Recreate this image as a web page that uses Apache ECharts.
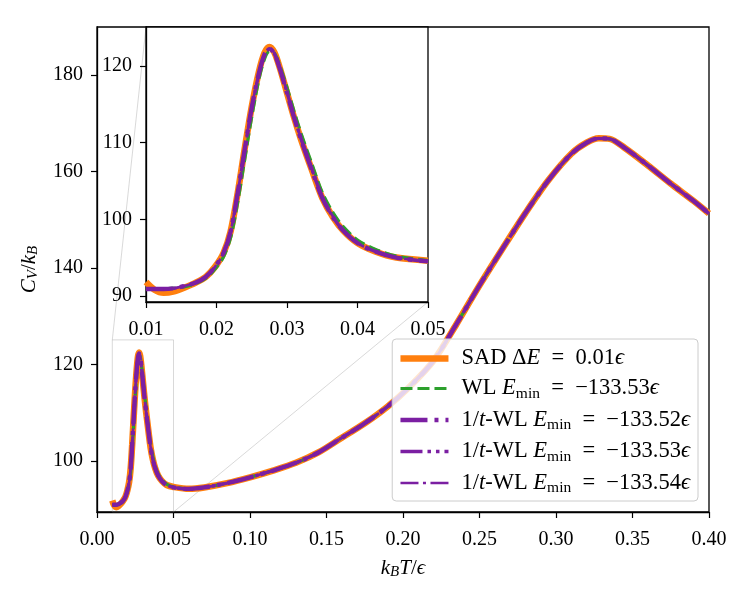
<!DOCTYPE html>
<html>
<head>
<meta charset="utf-8">
<script src="https://cdn.jsdelivr.net/npm/echarts@6/dist/echarts.min.js"></script>
<style>
  html, body { margin: 0; padding: 0; background: #fff; }
  #main { width: 750px; height: 600px; }
</style>
</head>
<body>
<div id="main"></div>
<script>
// temperatures k_B T / eps
const temps = [0.0100, 0.0112, 0.0125, 0.0140, 0.0155, 0.0170, 0.0185, 0.0198, 0.0210, 0.0220,
  0.0230, 0.0240, 0.0250, 0.0260, 0.0268, 0.0275, 0.0282, 0.0290, 0.0300, 0.0310,
  0.0320, 0.0335, 0.0350, 0.0365, 0.0380, 0.0400, 0.0425, 0.0455, 0.0500, 0.0600,
  0.0700, 0.0850, 0.1000, 0.1150, 0.1300, 0.1450, 0.1600, 0.1750, 0.1900, 0.2050,
  0.2200, 0.2350, 0.2500, 0.2650, 0.2800, 0.2950, 0.3100, 0.3200, 0.3280, 0.3350,
  0.3450, 0.3600, 0.3750, 0.3900, 0.4000];

const sadCv = [91.8, 90.8, 90.4, 90.6, 91.1, 91.7, 92.5, 93.8, 95.6, 98.4,
  103.4, 109.2, 114.7, 119.2, 121.7, 122.5, 121.8, 119.7, 116.5, 113.3,
  110.4, 106.5, 102.8, 100.3, 98.5, 96.9, 95.8, 95.0, 94.6, 94.2,
  94.5, 95.4, 96.6, 98.0, 99.6, 101.8, 104.8, 107.8, 111.3, 115.6,
  120.8, 128.4, 136.4, 144.0, 151.4, 158.2, 163.7, 166.0, 166.9, 166.8,
  164.9, 161.3, 157.5, 153.9, 151.3];

const wlCv = [90.9, 90.9, 90.9, 91.0, 91.2, 91.6, 92.3, 93.5, 95.1, 97.6,
  102.2, 107.8, 113.4, 118.2, 120.9, 121.9, 121.7, 120.0, 117.2, 114.1,
  111.2, 107.3, 103.5, 100.9, 99.0, 97.3, 96.1, 95.2, 94.6, 94.2,
  94.5, 95.4, 96.6, 98.0, 99.6, 101.8, 104.8, 107.8, 111.3, 115.6,
  120.8, 128.4, 136.4, 144.0, 151.4, 158.2, 163.7, 166.0, 166.9, 166.8,
  164.9, 161.3, 157.5, 153.9, 151.3];

const tw52Cv = [90.9, 90.9, 90.9, 91.0, 91.3, 91.7, 92.5, 93.8, 95.6, 98.4,
  103.4, 109.1, 114.6, 119.0, 121.5, 122.3, 121.6, 119.6, 116.5, 113.3,
  110.4, 106.5, 102.8, 100.3, 98.5, 96.9, 95.8, 95.0, 94.5, 94.2,
  94.5, 95.4, 96.6, 98.0, 99.6, 101.8, 104.8, 107.8, 111.3, 115.6,
  120.8, 128.4, 136.4, 144.0, 151.4, 158.2, 163.7, 166.0, 166.9, 166.8,
  164.9, 161.3, 157.5, 153.9, 151.3];

const tw53Cv = [90.9, 90.9, 90.9, 91.0, 91.3, 91.7, 92.5, 93.8, 95.6, 98.3,
  103.3, 109.0, 114.5, 118.9, 121.4, 122.2, 121.6, 119.6, 116.6, 113.4,
  110.5, 106.6, 102.9, 100.3, 98.5, 96.9, 95.8, 95.0, 94.5, 94.2,
  94.5, 95.4, 96.6, 98.0, 99.6, 101.8, 104.8, 107.8, 111.3, 115.6,
  120.8, 128.4, 136.4, 144.0, 151.4, 158.2, 163.7, 166.0, 166.9, 166.8,
  164.9, 161.3, 157.5, 153.9, 151.3];

const tw54Cv = [90.9, 90.9, 90.9, 91.0, 91.3, 91.7, 92.5, 93.8, 95.6, 98.4,
  103.4, 109.1, 114.6, 119.0, 121.5, 122.3, 121.7, 119.7, 116.6, 113.4,
  110.5, 106.6, 102.9, 100.4, 98.5, 96.9, 95.8, 95.0, 94.5, 94.2,
  94.5, 95.4, 96.6, 98.0, 99.6, 101.8, 104.8, 107.8, 111.3, 115.6,
  120.8, 128.4, 136.4, 144.0, 151.4, 158.2, 163.7, 166.0, 166.9, 166.8,
  164.9, 161.3, 157.5, 153.9, 151.3];

const seriesNames = ['SAD 0.01', 'WL -133.53', '1/t-WL -133.52', '1/t-WL -133.53', '1/t-WL -133.54'];
const legendLabels = [
  '{r|SAD Δ}{i|E}{r|  =  0.01}{i|ϵ}',
  '{r|WL }{i|E}{s|min}{r|  =  −133.53}{i|ϵ}',
  '{r|1/}{i|t}{r|-WL }{i|E}{s|min}{r|  =  −133.52}{i|ϵ}',
  '{r|1/}{i|t}{r|-WL }{i|E}{s|min}{r|  =  −133.53}{i|ϵ}',
  '{r|1/}{i|t}{r|-WL }{i|E}{s|min}{r|  =  −133.54}{i|ϵ}'
];

const mainYTicks = [100, 120, 140, 160, 180];
const insetXTicks = [0.01, 0.02, 0.03, 0.04, 0.05];
const insetYTicks = [90, 100, 110, 120];

const mainYMin = 89.4, mainYMax = 190;
const insetXMin = 0.01, insetXMax = 0.05;
const insetYMin = 89.2, insetYMax = 125.1;

const font = 'Liberation Serif';
const orange = '#ff7f0e';
const green = '#2ca02c';
const purple = '#7b1fa2';

const pairs = (xs, ys) => xs.map((x, i) => [x, ys[i]]);

const styles = [
  { color: orange, width: 6.5, type: 'solid' },
  { color: green, width: 3.2, type: [12, 5] },
  { color: purple, width: 4.4, type: [27, 7, 4, 7] },
  { color: purple, width: 3.4, type: [22, 5, 3.5, 5, 3.5, 5] },
  { color: purple, width: 2.7, type: [18, 4.5, 3, 4.5] }
];
const values = [sadCv, wlCv, tw52Cv, tw53Cv, tw54Cv];

const chart = echarts.init(document.getElementById('main'));

const series = [];
[0, 1].forEach(g => {
  values.forEach((ys, k) => {
    let data = pairs(temps, ys);
    if (g === 1) data = data.filter(p => p[0] <= insetXMax);
    series.push({
      name: seriesNames[k],
      type: 'line',
      xAxisIndex: g,
      yAxisIndex: g,
      data: data,
      showSymbol: false,
      symbol: 'none',
      smooth: 0.3,
      clip: true,
      z: g === 0 ? 2 + k * 0.1 : 6 + k * 0.1,
      lineStyle: { color: styles[k].color, width: styles[k].width, type: styles[k].type, cap: 'butt' },
      itemStyle: { color: styles[k].color },
      emphasis: { disabled: true },
      animation: false
    });
  });
});

const tickLabel = { fontFamily: font, fontSize: 20, color: '#000' };
const nameRich = {
  i: { fontFamily: font, fontStyle: 'italic', fontSize: 21, color: '#000' },
  r: { fontFamily: font, fontSize: 21, color: '#000' },
  s: { fontFamily: font, fontStyle: 'italic', fontSize: 15, color: '#000', padding: [9, 0, 0, 0] }
};

const option = {
  animation: false,
  backgroundColor: '#fff',
  grid: [
    { left: 97, right: 41, top: 27, bottom: 88, show: true, borderColor: '#000', borderWidth: 1.3, backgroundColor: 'transparent' },
    { left: 146, right: 322, top: 27, bottom: 298, show: true, borderColor: '#000', borderWidth: 1.3, backgroundColor: '#fff', z: 5 }
  ],
  xAxis: [
    {
      type: 'value', gridIndex: 0, min: 0, max: 0.4, interval: 0.05,
      axisLine: { show: true, onZero: false, lineStyle: { color: '#000', width: 1.3 } },
      axisTick: { show: true, inside: false, length: 6, lineStyle: { color: '#000', width: 1.2 } },
      axisLabel: { ...tickLabel, margin: 18, formatter: v => v.toFixed(2) },
      splitLine: { show: false },
      name: '{i|k}{s|B}{i|T}{r|/}{i|ϵ}',
      nameLocation: 'middle',
      nameGap: 44,
      nameTextStyle: { rich: nameRich }
    },
    {
      type: 'value', gridIndex: 1, min: insetXMin, max: insetXMax, z: 6,
      axisLine: { show: true, onZero: false, lineStyle: { color: '#000', width: 1.3 } },
      axisTick: { show: true, inside: false, length: 6, customValues: insetXTicks, lineStyle: { color: '#000', width: 1.2 } },
      axisLabel: { ...tickLabel, margin: 18, customValues: insetXTicks, formatter: v => v.toFixed(2) },
      splitLine: { show: false }
    }
  ],
  yAxis: [
    {
      type: 'value', gridIndex: 0, min: mainYMin, max: mainYMax,
      axisLine: { show: true, onZero: false, lineStyle: { color: '#000', width: 1.3 } },
      axisTick: { show: true, inside: false, length: 6, customValues: mainYTicks, lineStyle: { color: '#000', width: 1.2 } },
      axisLabel: { ...tickLabel, margin: 14, customValues: mainYTicks },
      splitLine: { show: false },
      name: '{i|C}{s|V}{r|/}{i|k}{s|B}',
      nameLocation: 'middle',
      nameGap: 56,
      nameRotate: 90,
      nameTextStyle: { rich: nameRich }
    },
    {
      type: 'value', gridIndex: 1, min: insetYMin, max: insetYMax, z: 6,
      axisLine: { show: true, onZero: false, lineStyle: { color: '#000', width: 1.3 } },
      axisTick: { show: true, inside: false, length: 6, customValues: insetYTicks, lineStyle: { color: '#000', width: 1.2 } },
      axisLabel: { ...tickLabel, margin: 14, customValues: insetYTicks },
      splitLine: { show: false }
    }
  ],
  legend: {
    data: seriesNames,
    orient: 'vertical',
    right: 52,
    bottom: 99,
    itemWidth: 48,
    itemHeight: 14,
    itemGap: 7,
    padding: [8, 8, 5, 5],
    backgroundColor: 'rgba(255,255,255,0.8)',
    borderColor: '#cccccc',
    borderWidth: 1,
    borderRadius: 4,
    z: 10,
    itemStyle: { opacity: 0 },
    lineStyle: { width: 'inherit', type: 'inherit', cap: 'butt' },
    formatter: name => legendLabels[seriesNames.indexOf(name)],
    textStyle: {
      padding: [0, 0, 0, 8],
      rich: {
        r: { fontFamily: font, fontSize: 22.5, color: '#000' },
        i: { fontFamily: font, fontStyle: 'italic', fontSize: 22.5, color: '#000' },
        s: { fontFamily: font, fontSize: 15.5, color: '#000', padding: [10, 0, 0, 0] }
      }
    }
  },
  series: series
};

chart.setOption(option);

// zoom rectangle and connector lines, placed from the axis scales
const rTL = chart.convertToPixel({ xAxisIndex: 0, yAxisIndex: 0 }, [insetXMin, insetYMax]);
const rBR = chart.convertToPixel({ xAxisIndex: 0, yAxisIndex: 0 }, [insetXMax, mainYMin]);
const iTL = chart.convertToPixel({ xAxisIndex: 1, yAxisIndex: 1 }, [insetXMin, insetYMax]);
const iBR = chart.convertToPixel({ xAxisIndex: 1, yAxisIndex: 1 }, [insetXMax, insetYMin]);
const guide = { stroke: 'rgba(128,128,128,0.3)', lineWidth: 1, fill: null };

chart.setOption({
  graphic: [
    { type: 'rect', z: 1, silent: true, shape: { x: rTL[0], y: rTL[1], width: rBR[0] - rTL[0], height: rBR[1] - rTL[1] }, style: guide },
    { type: 'line', z: 1, silent: true, shape: { x1: rTL[0], y1: rTL[1], x2: iTL[0], y2: iTL[1] }, style: guide },
    { type: 'line', z: 1, silent: true, shape: { x1: rBR[0], y1: rBR[1], x2: iBR[0], y2: iBR[1] }, style: guide }
  ]
});
</script>
</body>
</html>
